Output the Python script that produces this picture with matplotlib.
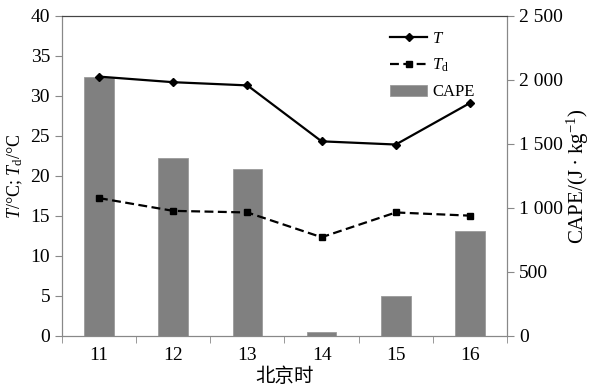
import numpy as np
import matplotlib
matplotlib.use("Agg")
import matplotlib.pyplot as plt
from matplotlib.ticker import FuncFormatter

plt.rcParams['font.family'] = ['Liberation Serif', 'Noto Sans CJK SC']
plt.rcParams['mathtext.fontset'] = 'custom'
plt.rcParams['mathtext.rm'] = 'Liberation Serif'
plt.rcParams['mathtext.it'] = 'Liberation Serif:italic'

hours = ['11', '12', '13', '14', '15', '16']
temp = [32.4, 31.7, 31.3, 24.3, 23.9, 29.1]
dewpoint = [17.2, 15.6, 15.4, 12.3, 15.4, 15.0]
cape = [2020, 1390, 1300, 25, 310, 820]

x = np.arange(len(hours))

fig = plt.figure(figsize=(5.89, 3.87), dpi=100)
ax = fig.add_axes([0.105, 0.133, 0.756, 0.826])
ax2 = ax.twinx()

bars = ax2.bar(x, cape, width=0.4, color='#808080', edgecolor='#9a9a9a', linewidth=0.6, label='CAPE', zorder=1)
ax2.set_ylim(0, 2500)
ax2.set_yticks(np.arange(0, 2501, 500))
ax2.yaxis.set_major_formatter(FuncFormatter(lambda v, p: f"{int(v):,}".replace(',', ' ')))
ax2.set_ylabel('CAPE/(J$\\,\\bullet\\,$kg$^{-1}$)', fontsize=15, labelpad=1)

# lines drawn on top of bars
ax.set_zorder(ax2.get_zorder() + 1)
ax.patch.set_visible(False)
l1, = ax.plot(x, temp, color='black', lw=1.6, marker='D', ms=4, label='$T$')
l2, = ax.plot(x, dewpoint, color='black', lw=1.6, ls=(0, (4, 2)), marker='s', ms=5, label='$T_{\\mathrm{d}}$')

ax.set_ylim(0, 40)
ax.set_yticks(np.arange(0, 41, 5))
ax.set_xlim(-0.5, len(hours) - 0.5)
ax.set_xticks(x)
ax.set_xticklabels(hours)
ax.set_xticks(np.arange(-0.5, len(hours), 1), minor=True)
ax.tick_params(axis='x', which='major', length=0, pad=8)
ax.tick_params(axis='x', which='minor', length=5, color='#888888')
ax.tick_params(axis='y', length=5, color='#888888')
ax2.tick_params(axis='y', length=5, color='#888888')
ax.set_ylabel('$T$/°C; $T_{\\mathrm{d}}$/°C', fontsize=13, labelpad=4)
ax.set_xlabel('北京时', fontsize=14, labelpad=3)

for a in (ax, ax2):
    a.tick_params(labelsize=14)
    for s in ('left', 'right', 'bottom'):
        a.spines[s].set_color('#888888')
    a.spines['top'].set_color('#444444')

ax.legend([l1, l2, bars], ['$T$', '$T_{\\mathrm{d}}$', 'CAPE'], loc='upper right',
          bbox_to_anchor=(0.96, 1.0), frameon=False, fontsize=12, handlelength=2.2,
          handletextpad=0.3, labelspacing=0.6)

fig.savefig('out.png', dpi=100)
